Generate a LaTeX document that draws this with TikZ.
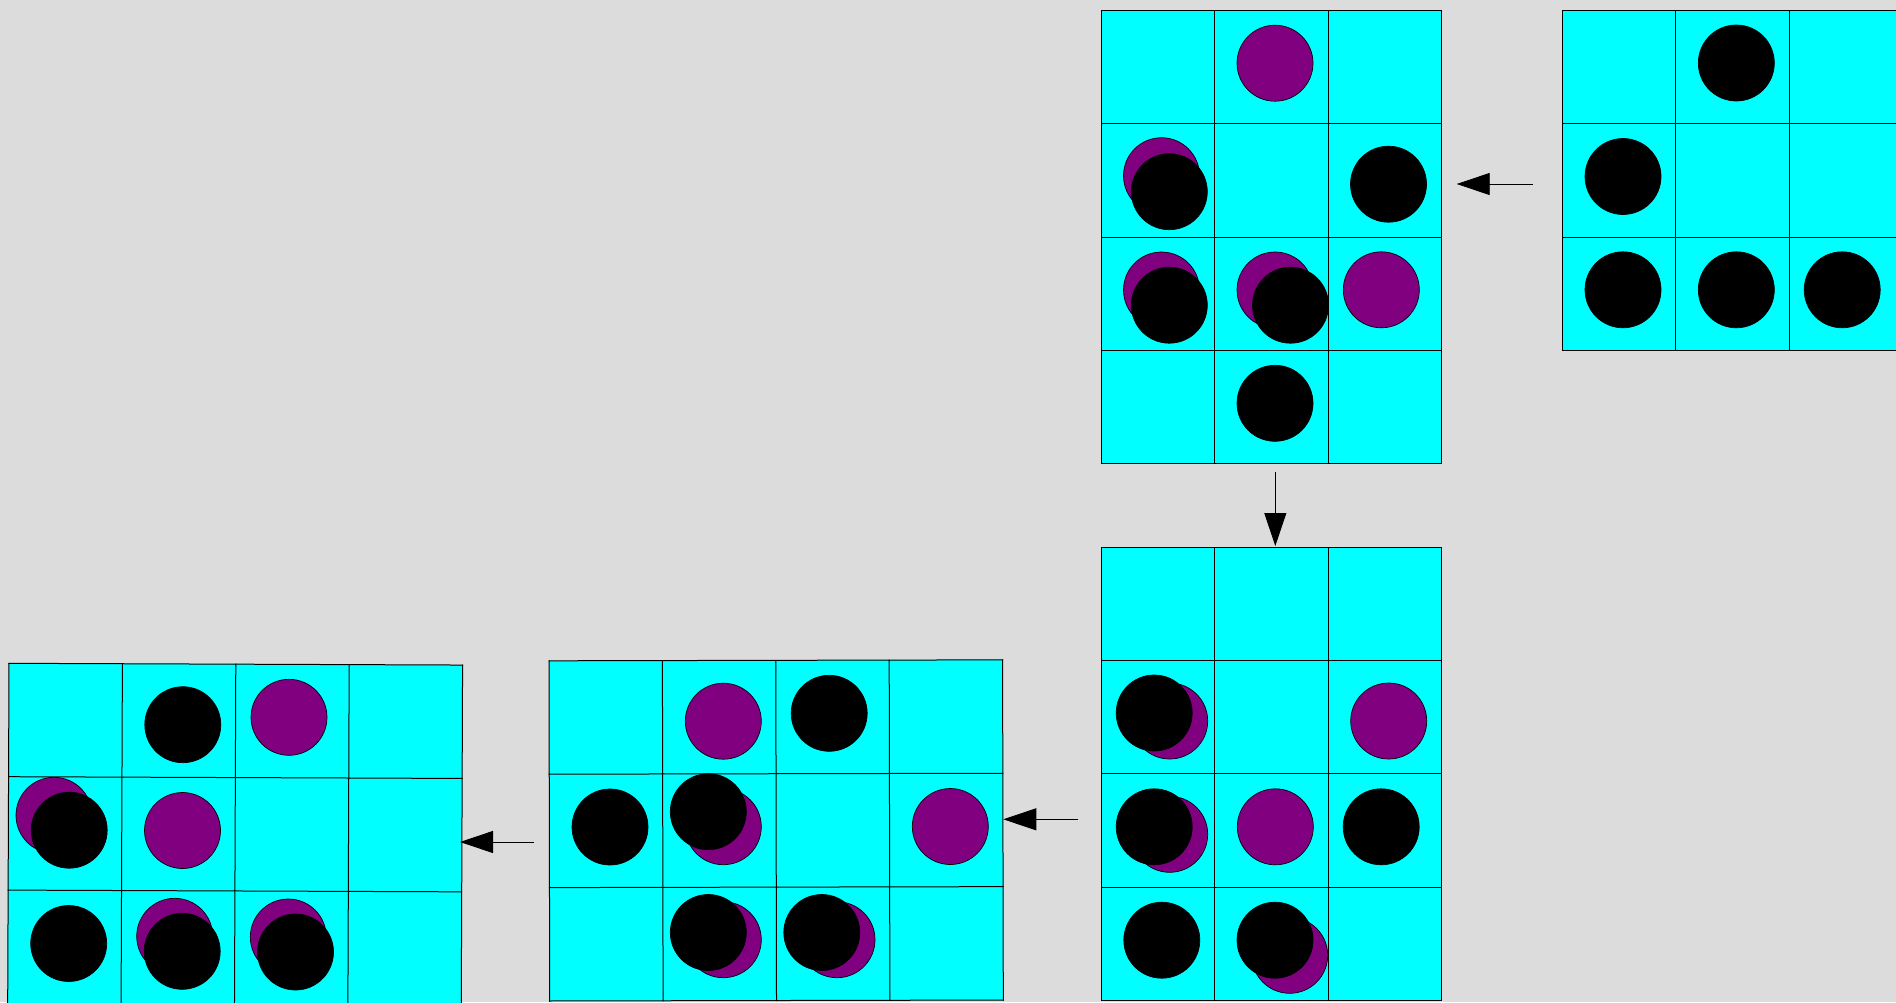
\documentclass[tikz,border=0pt]{standalone}
\usetikzlibrary{arrows.meta}
\definecolor{bgc}{HTML}{DCDCDC}
\definecolor{cellc}{HTML}{00FFFF}
\definecolor{purp}{HTML}{800080}
\newcommand\myboard[5][]{%
  \begin{scope}[shift={(#2,#3)},#1]
    \fill[cellc] (0,0) rectangle (#4*113.4,#5*113.4);
    \foreach \i in {0,...,#4} \draw[gridl] (\i*113.4,0) -- (\i*113.4,#5*113.4);
    \foreach \j in {0,...,#5} \draw[gridl] (0,\j*113.4) -- (#4*113.4,\j*113.4);
  \end{scope}}
\newcommand\pc[2]{\draw[pball] (#1,#2) circle[radius=38pt];}
\newcommand\bc[2]{\draw[bball] (#1,#2) circle[radius=38pt];}
\begin{document}
\begin{tikzpicture}[x=1pt,y=-1pt,
  gridl/.style={draw=black,line width=1pt,line cap=rect},
  pball/.style={fill=purp,draw=black,line width=0.7pt},
  bball/.style={fill=black,draw=black,line width=0.7pt},
  flow/.style={draw=black,line width=0.9pt,-{Triangle[length=33pt,width=22pt]}}]
\useasboundingbox (0,0) rectangle (1896,1002);
\clip (0,0) rectangle (1896,1002);
\fill[bgc] (0,0) rectangle (1896,1002);

% boards
\myboard{1101.3}{10.3}{3}{4}      % A
\myboard{1562.3}{10.3}{3}{3}      % B
\myboard{1101.3}{547}{3}{4}       % C
\myboard[rotate=0.12]{549}{660.8}{4}{3} % D
\myboard[rotate=-0.22]{9}{663.3}{4}{3}  % E

% purple balls (under)
% A
\pc{1275}{63.2}
\pc{1161.5}{175.7}
\pc{1161.5}{290}
\pc{1275}{290}
\pc{1381.3}{289.8}
% C
\pc{1169.7}{721}
\pc{1388.7}{721}
\pc{1169.7}{834.3}
\pc{1275.3}{826.8}
\pc{1289.7}{955.3}
% D
\pc{723.3}{721.2}
\pc{723.3}{826.7}
\pc{950.3}{826.5}
\pc{723.3}{939.7}
\pc{837}{939.7}
% E
\pc{289}{717.3}
\pc{54}{815.3}
\pc{182.5}{830.5}
\pc{174.7}{936.3}
\pc{288.3}{937}

% black balls (over)
% A
\bc{1169.3}{191.7}
\bc{1388.5}{184.2}
\bc{1169.3}{305.2}
\bc{1290.5}{305.2}
\bc{1275}{403.3}
% B
\bc{1736.3}{63}
\bc{1623}{176.5}
\bc{1623}{289.8}
\bc{1736.3}{289.8}
\bc{1842.2}{289.8}
% C
\bc{1154.2}{713}
\bc{1154.2}{826.8}
\bc{1381.2}{826.8}
\bc{1161.8}{940.2}
\bc{1275}{940.2}
% D
\bc{829.2}{713.3}
\bc{610}{827}
\bc{708.3}{811.7}
\bc{708.3}{932.5}
\bc{821.8}{932.5}
% E
\bc{182.8}{724.7}
\bc{69.2}{830.2}
\bc{68.7}{943.5}
\bc{182.2}{951.3}
\bc{295.5}{952}

% connectors
\coordinate (a1s) at (1532.7,184);
\coordinate (a1e) at (1456.7,184);
\coordinate (a2s) at (1275.3,471.7);
\coordinate (a2e) at (1275.3,546);
\coordinate (a3s) at (1078.3,819.3);
\coordinate (a3e) at (1003.3,819.3);
\coordinate (a4s) at (534,842);
\coordinate (a4e) at (460,842);
\draw[flow] (a1s) -- (a1e);
\draw[flow] (a2s) -- (a2e);
\draw[flow] (a3s) -- (a3e);
\draw[flow] (a4s) -- (a4e);
\end{tikzpicture}
\end{document}
